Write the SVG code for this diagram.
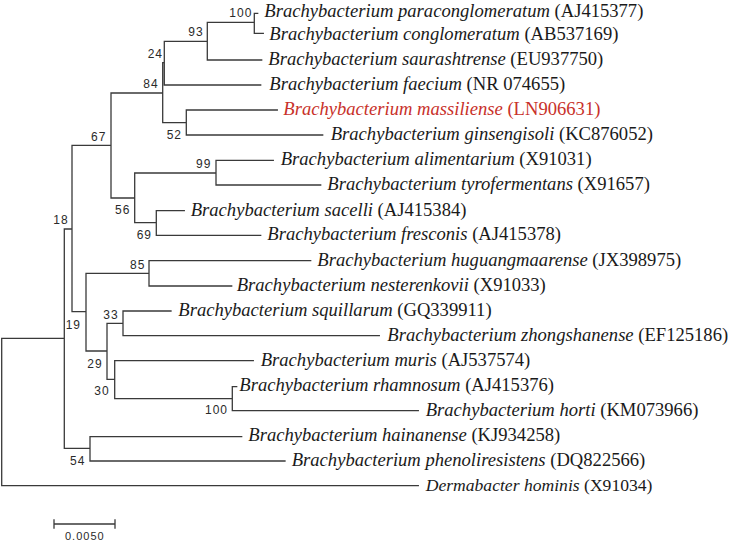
<svg xmlns="http://www.w3.org/2000/svg" width="733" height="542" viewBox="0 0 733 542">
<style>
.br{fill:none;stroke:#3a3a3a;stroke-width:1.3;stroke-linecap:square}
.tx{font-family:"Liberation Serif","Times New Roman",serif;font-size:18.6px;fill:#1a1a1a}
.it{font-style:italic}
.red{fill:#c8312a}
.bs{font-family:"Liberation Sans",Arial,sans-serif;font-size:12px;letter-spacing:1px;fill:#2a2a2a}
</style>
<rect width="733" height="542" fill="#ffffff"/>
<g id="connectors">
<path class="br" d="M1.7,338.3V485.7H418.3M1.7,338.3H64.3
M64.3,229V448.3M64.3,229H72M64.3,448.3H90
M72,145.3V311.7M72,145.3H111M72,311.7H86
M111,93V198M111,93H162.7M111,198H134.7
M162.7,62.7V122.7M162.7,62.7H164.3M162.7,122.7H186.3
M164.3,41.3V85M164.3,41.3H207.3M164.3,85H260.7
M207.3,22.3V60M207.3,22.3H254.3M207.3,60H261.7
M254.3,13.3V33.3M254.3,13.3H257.7M254.3,33.3H263.3
M186.3,110V135M186.3,110H277.3M186.3,135H322.7
M134.7,173V222.7M134.7,173H216M134.7,222.7H156.3
M216,160.3V185M216,160.3H273.3M216,185H320.7
M156.3,210.7V235.3M156.3,210.7H184.3M156.3,235.3H260.7
M86,273.3V351M86,273.3H149M86,351H107
M149,260.7V286M149,260.7H310.7M149,286H231.7
M107,323.3V379.3M107,323.3H123M107,379.3H114.7
M123,311V335.7M123,311H171M123,335.7H379.3
M114.7,360.7V398.7M114.7,360.7H253.3M114.7,398.7H232.3
M232.3,386.7V410.7M232.3,386.7H236.7M232.3,410.7H418.3
M90,436.7V461M90,436.7H241.7M90,461H285"/>
</g>
<g id="bootstrap" class="bs">
<text x="229.3" y="17">100</text>
<text x="188.3" y="36">93</text>
<text x="147.7" y="58.3">24</text>
<text x="143.3" y="88.3">84</text>
<text x="91" y="140.7">67</text>
<text x="166.7" y="138.7">52</text>
<text x="196" y="168">99</text>
<text x="115" y="214">56</text>
<text x="136.7" y="238.7">69</text>
<text x="53.3" y="224.3">18</text>
<text x="130" y="268.7">85</text>
<text x="103.3" y="318.7">33</text>
<text x="65.7" y="328.7">19</text>
<text x="87.3" y="367.7">29</text>
<text x="94.3" y="395.3">30</text>
<text x="205" y="414">100</text>
<text x="70" y="464.7">54</text>
</g>
<g id="taxa" class="tx">
<g id="t-paraconglomeratum"><text x="264.3" y="16.8"><tspan class="it">Brachybacterium paraconglomeratum</tspan> (AJ415377)</text></g>
<g id="t-conglomeratum"><text x="269.3" y="40"><tspan class="it">Brachybacterium conglomeratum</tspan> (AB537169)</text></g>
<g id="t-saurashtrense"><text x="268.3" y="65"><tspan class="it">Brachybacterium saurashtrense</tspan> (EU937750)</text></g>
<g id="t-faecium"><text x="269.3" y="90"><tspan class="it">Brachybacterium faecium</tspan> (NR 074655)</text></g>
<g id="t-massiliense"><text class="red" x="283.3" y="115"><tspan class="it">Brachybacterium massiliense</tspan> (LN906631)</text></g>
<g id="t-ginsengisoli"><text x="330.7" y="140"><tspan class="it">Brachybacterium ginsengisoli</tspan> (KC876052)</text></g>
<g id="t-alimentarium"><text x="280.7" y="165"><tspan class="it">Brachybacterium alimentarium</tspan> (X91031)</text></g>
<g id="t-tyrofermentans"><text x="327.3" y="190"><tspan class="it">Brachybacterium tyrofermentans</tspan> (X91657)</text></g>
<g id="t-sacelli"><text x="190.7" y="215.5"><tspan class="it">Brachybacterium sacelli</tspan> (AJ415384)</text></g>
<g id="t-fresconis"><text x="267.3" y="240"><tspan class="it">Brachybacterium fresconis</tspan> (AJ415378)</text></g>
<g id="t-huguangmaarense"><text x="317.3" y="265.5"><tspan class="it">Brachybacterium huguangmaarense</tspan> (JX398975)</text></g>
<g id="t-nesterenkovii"><text x="236.7" y="290.5"><tspan class="it">Brachybacterium nesterenkovii</tspan> (X91033)</text></g>
<g id="t-squillarum"><text x="178.3" y="315.5"><tspan class="it">Brachybacterium squillarum</tspan> (GQ339911)</text></g>
<g id="t-zhongshanense"><text x="387.3" y="340.5"><tspan class="it">Brachybacterium zhongshanense</tspan> (EF125186)</text></g>
<g id="t-muris"><text x="260.7" y="365.5"><tspan class="it">Brachybacterium muris</tspan> (AJ537574)</text></g>
<g id="t-rhamnosum"><text x="239.3" y="390.7"><tspan class="it">Brachybacterium rhamnosum</tspan> (AJ415376)</text></g>
<g id="t-horti"><text x="425.7" y="415.5"><tspan class="it">Brachybacterium horti</tspan> (KM073966)</text></g>
<g id="t-hainanense"><text x="248.3" y="441"><tspan class="it">Brachybacterium hainanense</tspan> (KJ934258)</text></g>
<g id="t-phenoliresistens"><text x="291.7" y="466"><tspan class="it">Brachybacterium phenoliresistens</tspan> (DQ822566)</text></g>
<g id="t-dermabacter"><text x="425.7" y="490.5" style="font-size:17.6px"><tspan class="it">Dermabacter hominis</tspan> (X91034)</text></g>
</g>
<g id="scale">
<path class="br" d="M54,524H115M54,520V528M115,520V528"/>
<text class="bs" x="65" y="540" style="font-size:11px">0.0050</text>
</g>
</svg>
